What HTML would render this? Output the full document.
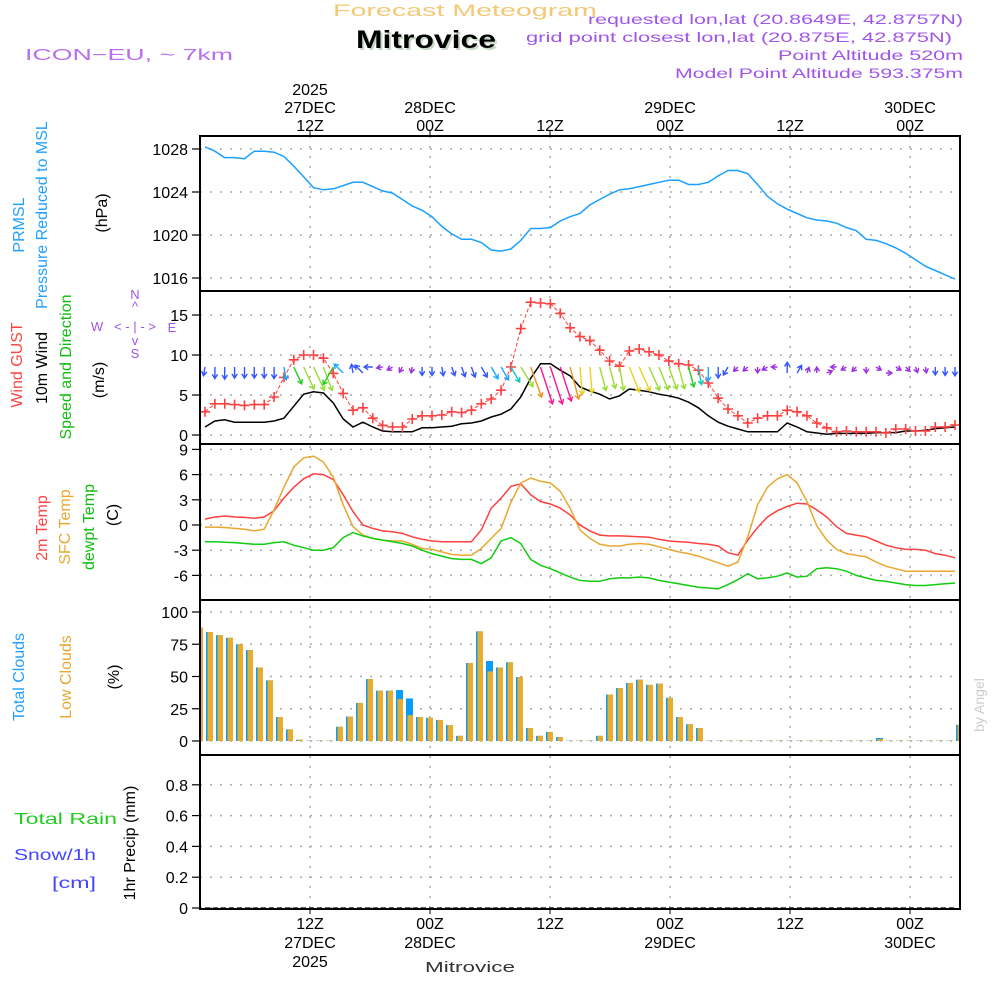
<!DOCTYPE html>
<html><head><meta charset="utf-8"><style>
html,body{margin:0;padding:0;background:#fff}
svg{display:block}
text{font-family:"Liberation Sans",sans-serif}
</style></head><body>
<svg id="chart" width="1000" height="1000" viewBox="0 0 1000 1000" xmlns="http://www.w3.org/2000/svg">
<g id="header">
<text x="333" y="16" font-size="17" fill="#f2c977" textLength="264" lengthAdjust="spacingAndGlyphs">Forecast Meteogram</text>
<text x="356" y="48" font-size="25" font-weight="bold" font-family="Liberation Serif" fill="#c5d8c5" textLength="140" lengthAdjust="spacingAndGlyphs" transform="translate(2,2)">Mitrovice</text>
<text x="356" y="48" font-size="25" font-weight="bold" font-family="Liberation Serif" fill="#000" textLength="140" lengthAdjust="spacingAndGlyphs">Mitrovice</text>
<text x="25" y="60" font-size="16" fill="#b86ff0" textLength="208" lengthAdjust="spacingAndGlyphs">ICON−EU, ~ 7km</text>
<text x="588" y="24" font-size="14" fill="#a055e8" textLength="375" lengthAdjust="spacingAndGlyphs">requested lon,lat (20.8649E, 42.8757N)</text>
<text x="526" y="42" font-size="14" fill="#a055e8" textLength="426" lengthAdjust="spacingAndGlyphs">grid point closest lon,lat (20.875E, 42.875N)</text>
<text x="778" y="60" font-size="14" fill="#a055e8" textLength="185" lengthAdjust="spacingAndGlyphs">Point Altitude 520m</text>
<text x="675" y="78" font-size="14" fill="#a055e8" textLength="288" lengthAdjust="spacingAndGlyphs">Model Point Altitude 593.375m</text>
</g>
<g id="grid"></g>
<g id="marks"></g>
<g id="frames"></g>
<g id="labels" font-size="16">
<text transform="translate(24,225) rotate(-90)" text-anchor="middle" fill="#22a0ff">PRMSL</text>
<text transform="translate(47,215) rotate(-90)" text-anchor="middle" fill="#22a0ff">Pressure Reduced to MSL</text>
<text transform="translate(107,213) rotate(-90)" text-anchor="middle" fill="#000">(hPa)</text>
<text transform="translate(22,365) rotate(-90)" text-anchor="middle" fill="#ff4444">Wind GUST</text>
<text transform="translate(47,368) rotate(-90)" text-anchor="middle" fill="#000">10m Wind</text>
<text transform="translate(71,367) rotate(-90)" text-anchor="middle" fill="#11bb11">Speed and Direction</text>
<text transform="translate(104,380) rotate(-90)" text-anchor="middle" fill="#000">(m/s)</text>
<g font-size="13" fill="#a055e8">
<text x="135" y="299" text-anchor="middle">N</text><text x="135" y="311" text-anchor="middle">^</text>
<text x="135" y="331" text-anchor="middle" textLength="42" lengthAdjust="spacingAndGlyphs">&lt; - | - &gt;</text>
<text x="97" y="331" text-anchor="middle">W</text><text x="172" y="332" text-anchor="middle">E</text>
<text x="135" y="345" text-anchor="middle">v</text><text x="135" y="358" text-anchor="middle">S</text>
</g>
<text transform="translate(47,528) rotate(-90)" text-anchor="middle" fill="#ff4444">2m Temp</text>
<text transform="translate(70,527) rotate(-90)" text-anchor="middle" fill="#e8a830">SFC Temp</text>
<text transform="translate(94,527) rotate(-90)" text-anchor="middle" fill="#11bb11">dewpt Temp</text>
<text transform="translate(118,515) rotate(-90)" text-anchor="middle" fill="#000">(C)</text>
<text transform="translate(24,677) rotate(-90)" text-anchor="middle" fill="#22a0ff">Total Clouds</text>
<text transform="translate(71,677) rotate(-90)" text-anchor="middle" fill="#e8a830">Low Clouds</text>
<text transform="translate(119,677) rotate(-90)" text-anchor="middle" fill="#000">(%)</text>
<text x="14" y="824" font-size="16" fill="#22cc22" textLength="103" lengthAdjust="spacingAndGlyphs">Total  Rain</text>
<text x="14" y="860" font-size="16" fill="#4444ff" textLength="82" lengthAdjust="spacingAndGlyphs">Snow/1h</text>
<text x="52" y="888" font-size="16" fill="#4444ff" textLength="44" lengthAdjust="spacingAndGlyphs">[cm]</text>
<text transform="translate(135,843) rotate(-90)" text-anchor="middle" fill="#000">1hr Precip (mm)</text>
<text x="425" y="972" font-size="15" font-family="Liberation Serif" fill="#333" textLength="90" lengthAdjust="spacingAndGlyphs">Mitrovice</text>
<text transform="translate(984,705) rotate(-90)" font-size="14" font-family="Liberation Serif" fill="#ccc" text-anchor="middle">by Angel</text>
</g>
</svg>
<script>
// ---- data (hourly, index 0..76) ----
const pressure=[1028.2,1027.8,1027.2,1027.2,1027.1,1027.8,1027.8,1027.7,1027.3,1026.4,1025.4,1024.4,1024.2,1024.3,1024.6,1024.9,1024.9,1024.5,1024.1,1023.9,1023.3,1022.7,1022.3,1021.7,1020.8,1020.1,1019.6,1019.6,1019.3,1018.6,1018.5,1018.7,1019.5,1020.6,1020.6,1020.7,1021.3,1021.7,1022.0,1022.8,1023.3,1023.8,1024.2,1024.3,1024.5,1024.7,1024.9,1025.1,1025.1,1024.7,1024.7,1024.9,1025.5,1026.0,1026.0,1025.7,1024.7,1023.6,1022.9,1022.4,1022.0,1021.6,1021.4,1021.3,1021.1,1020.7,1020.4,1019.6,1019.5,1019.2,1018.8,1018.3,1017.7,1017.1,1016.7,1016.3,1015.9];
const gust=[2.9,3.9,3.9,3.8,3.7,3.8,3.8,4.75,7.2,9.4,10,10,9.6,7.7,5.2,3.1,3.4,2.1,1.2,1.0,1.0,2.0,2.4,2.4,2.5,2.9,2.8,3.1,3.9,4.5,5.6,8.5,13.3,16.6,16.5,16.4,15.2,13.4,12.3,11.8,10.6,9.25,8.6,10.5,10.75,10.4,10,9.25,8.9,8.75,8.1,6.5,4.6,3.25,2.4,1.5,2.1,2.4,2.4,3.1,2.9,2.4,1.5,0.9,0.4,0.5,0.4,0.4,0.4,0.25,0.75,0.75,0.5,0.5,1.0,1.0,1.25];
const wind10m=[1.0,1.75,1.9,1.6,1.6,1.6,1.6,1.75,2.1,3.6,5.1,5.4,5.25,4,2,1,1.6,1.0,0.5,0.4,0.4,0.4,0.9,0.9,1,1.1,1.4,1.5,1.75,2.25,2.6,3.25,4.75,7.1,8.9,8.9,8.1,7.4,6.0,5.5,5.1,4.5,4.9,5.75,5.6,5.4,5.1,4.9,4.6,4.1,3.4,2.4,1.6,1.1,0.75,0.4,0.4,0.4,0.4,1.5,1,0.4,0.25,0.1,0.2,0.2,0.2,0.2,0.3,0.3,0.3,0.5,0.5,0.6,0.8,0.9,1.0];
const windDir=[10,0,0,0,0,0,0,0,350,335,335,335,340,30,135,170,135,90,80,60,30,10,0,0,350,340,340,340,330,330,330,330,328,340,342,342,342,345,355,355,345,345,350,338,336,336,338,340,345,345,350,0,0,30,45,50,0,60,90,180,210,200,180,250,90,60,45,0,300,270,300,315,340,350,0,0,0];
const temp2m=[0.7,0.95,1.07,0.95,0.9,0.8,0.95,1.7,3.2,4.5,5.5,6.1,6.0,5.4,3.6,1.6,0,-0.4,-0.7,-0.8,-1.0,-1.4,-1.7,-1.9,-2.0,-2.0,-2.0,-2.0,-0.6,2.0,3.2,4.6,4.9,3.6,2.8,2.5,2.0,1.2,0,-0.7,-1.2,-1.3,-1.3,-1.35,-1.4,-1.45,-1.7,-1.9,-2.0,-2.05,-2.2,-2.3,-2.5,-3.3,-3.6,-1.8,-0.3,0.95,1.7,2.2,2.6,2.5,1.8,0.95,-0.2,-1.0,-1.2,-1.4,-1.9,-2.4,-2.7,-2.9,-2.9,-3.0,-3.4,-3.6,-3.9];
const tempSfc=[-0.25,-0.25,-0.3,-0.4,-0.5,-0.7,-0.5,1.8,4.5,6.9,8.0,8.2,7.5,5.7,2.4,-0.2,-1.2,-1.6,-1.8,-1.9,-1.9,-2.3,-2.8,-2.9,-3.2,-3.5,-3.6,-3.6,-2.8,-1.6,-0.4,2.7,5.0,5.6,5.2,5.0,4.0,2.0,-0.6,-1.6,-2.3,-2.5,-2.5,-2.3,-2.2,-2.3,-2.6,-2.9,-3.2,-3.4,-3.7,-4.1,-4.5,-4.9,-4.4,-1.4,2.4,4.5,5.5,6.0,5.0,2.8,-0.1,-1.8,-2.9,-3.4,-3.6,-3.8,-4.4,-4.9,-5.2,-5.5,-5.5,-5.5,-5.5,-5.5,-5.5];
const dewpoint=[-2.0,-2.0,-2.05,-2.1,-2.2,-2.3,-2.3,-2.1,-2.0,-2.4,-2.7,-3.0,-3.0,-2.7,-1.5,-0.9,-1.3,-1.6,-1.8,-2.0,-2.2,-2.5,-3.0,-3.4,-3.7,-4.0,-4.1,-4.1,-4.6,-3.9,-1.9,-1.5,-2.2,-4.1,-4.8,-5.2,-5.7,-6.2,-6.6,-6.7,-6.7,-6.4,-6.3,-6.3,-6.2,-6.3,-6.6,-6.8,-7.0,-7.2,-7.4,-7.5,-7.6,-7.1,-6.5,-5.8,-6.4,-6.3,-6.1,-5.7,-6.2,-6.1,-5.2,-5.1,-5.2,-5.5,-6.0,-6.3,-6.6,-6.7,-6.9,-7.1,-7.2,-7.2,-7.1,-7.0,-6.9];
const totalClouds=[88,84.5,82,80,75,70.5,57,47,18.6,9,1,0.3,0.3,0.3,11,19,29.5,48,39,39,39.5,33,18.6,18,16.3,12.4,4,60.5,85,62,57,61,49.6,10,4,7,3,0.3,0.3,0.3,4,36,41,45,47.5,43.5,44.5,33.5,18.6,13,10,0.3,0.3,0.3,0.3,0.3,0.3,0.3,0.3,0.3,0.3,0.3,0.3,0.3,0.3,0.3,0.3,0.3,2.3,0.3,0.3,0.3,0.3,0.3,0.3,0.3,12.5];
const lowClouds=[88,84.5,82,80,75,70.5,57,47,18.6,9,1,0.3,0.3,0.3,11,19,29.5,48,39,39,32.5,20,18.6,18,16.3,12.4,4,60.5,85,54,57,61,49.6,10,4,7,3,0.3,0.3,0.3,4,36,41,45,47.5,43.5,44.5,33.5,18.6,13,10,0.3,0.3,0.3,0.3,0.3,0.3,0.3,0.3,0.3,0.3,0.3,0.3,0.3,0.3,0.3,0.3,0.3,1.5,0.3,0.3,0.3,0.3,0.3,0.3,0.3,12.5];
const precip=new Array(77).fill(0);
const pressureTicks=[1028,1024,1020,1016];
const windTicks=[0,5,10,15];
const tempTicks=[9,6,3,0,-3,-6];
const cloudTicks=[0,25,50,75,100];
const precipTicks=[0,0.2,0.4,0.6,0.8];
const timeTicks=["12Z","00Z","12Z","00Z","12Z","00Z"];
const timeDates=["27DEC","28DEC","","29DEC","","30DEC"];
const timeTickHours=[11,23,35,47,59,71];

// ---- scales ----
const L=200,R=960;
const xi=i=>205+i*(750/76);
const xh=h=>200+10*h;
const P={pres:[136,291],wind:[291,444],temp:[444,600],cloud:[600,755],prec:[755,909]};
const yP=v=>149+(1028-v)*10.75;
const yW=v=>435-8*v;
const yT=v=>525-8.4*v;
const yC=v=>741-1.29*v;
const yR=v=>908-154*v;
const NS="http://www.w3.org/2000/svg";
function mk(tag,attrs,parent){const e=document.createElementNS(NS,tag);for(const k in attrs)e.setAttribute(k,attrs[k]);parent.appendChild(e);return e;}
const grid=document.getElementById('grid'),marks=document.getElementById('marks'),frames=document.getElementById('frames');

function yAxis(ticks,ys,top,bot,name,fmt){
  ticks.forEach(t=>{const y=ys(t);
    const g=mk('line',{x1:L,x2:R,y1:y,y2:y,stroke:'#aaa','stroke-width':1.5,'stroke-dasharray':'2 8'},grid);
    
    
    mk('line',{x1:L-8,x2:L,y1:y,y2:y,stroke:'#000','stroke-width':1.2},frames);
    const tx=mk('text',{x:L-12,y:y+6,'text-anchor':'end','font-size':16,fill:'#000'},frames);
    tx.textContent=fmt?fmt(t):String(t);
    
    
  });
}
yAxis(pressureTicks,yP,136,291,'pressure');
yAxis(windTicks,yW,291,444,'wind');
yAxis(tempTicks,yT,444,600,'temp');
yAxis(cloudTicks,yC,600,755,'cloud');
yAxis(precipTicks,yR,755,909,'precip',t=>t===0?'0':t.toFixed(1));
timeTickHours.forEach((h,k)=>{const x=xh(h);
  const g=mk('line',{x1:x,x2:x,y1:136,y2:909,stroke:'#aaa','stroke-width':1.5,'stroke-dasharray':'2 8'},grid);
  
  
  mk('line',{x1:x,x2:x,y1:131,y2:136,stroke:'#000'},frames);
  mk('line',{x1:x,x2:x,y1:909,y2:914,stroke:'#000'},frames);
  const t1=mk('text',{x:x,y:131,'text-anchor':'middle','font-size':16},frames);t1.textContent=timeTicks[k];
  
  
  const b1=mk('text',{x:x,y:929,'text-anchor':'middle','font-size':16},frames);b1.textContent=timeTicks[k];
  
  
  if(timeDates[k]){
    const t2=mk('text',{x:x,y:113,'text-anchor':'middle','font-size':16},frames);t2.textContent=timeDates[k];
    
    
    const b2=mk('text',{x:x,y:948,'text-anchor':'middle','font-size':16},frames);b2.textContent=timeDates[k];
    
    
  }
  if(k===0){
    const t3=mk('text',{x:x,y:95,'text-anchor':'middle','font-size':16},frames);t3.textContent='2025';
    
    
    const b3=mk('text',{x:x,y:967,'text-anchor':'middle','font-size':16},frames);b3.textContent='2025';
    
    
  }
});
Object.keys(P).forEach(k=>{const [a,b]=P[k];
  const r=mk('rect',{x:L,y:a,width:R-L,height:b-a,fill:'none',stroke:'#000','stroke-width':2},frames);
  
  
});

function line(arr,ys,color,name,w){
  const d=arr.map((v,i)=>(i?'L':'M')+xi(i).toFixed(1)+','+ys(v).toFixed(1)).join('');
  const p=mk('path',{d:d,fill:'none',stroke:color,'stroke-width':w||1.5},marks);
  
  
  return p;
}
line(pressure,yP,'#1aa0ff','pressure-line');
totalClouds.forEach((v,i)=>{const x=xh(i)-4;
  const x0=Math.max(L,x), w=Math.min(x+7,R)-x0; if(w<=0)return;
  const b=mk('rect',{x:x0,y:yC(v),width:w,height:yC(0)-yC(v),fill:'#0a9cf5'},marks);
  
  
  const lv=lowClouds[i];const xo=Math.max(L,x+1.5),wo=Math.min(x+7,R)-xo;
  if(wo>0){const o=mk('rect',{x:xo,y:yC(lv),width:wo,height:yC(0)-yC(lv),fill:'#e8ad2e'},marks);
  
  }
});
line(precip,yR,'#000','precip-line',1.2).setAttribute('stroke-dasharray','5 3');
line(temp2m,yT,'#ff4040','temp-2m-line');
line(tempSfc,yT,'#e8a830','temp-sfc-line');
line(dewpoint,yT,'#11cc11','dewpoint-line');
line(wind10m,yW,'#000','wind-10m-line');
line(gust,yW,'#ff4040','wind-gust-line',1).setAttribute('stroke-dasharray','4 2');
gust.forEach((v,i)=>{const x=xi(i),y=yW(v);
  const c=mk('path',{d:`M${x-5},${y}h10M${x},${y-5}v10`,stroke:'#ff4040','stroke-width':1.6},marks);
  
  
});
function wcol(v){if(v<0.8)return'#9a30e0';if(v<2)return'#3355ff';if(v<2.8)return'#1aa8ff';if(v<3.5)return'#11c8c0';if(v<4.5)return'#22cc22';if(v<5.5)return'#99dd33';if(v<6.5)return'#e8d020';if(v<8)return'#f39020';return'#ff1493';}
wind10m.forEach((v,i)=>{
  const th=(windDir[i]+180)*Math.PI/180;
  const dx=Math.sin(th),dy=-Math.cos(th);
  const len=v<0.8?6:5+3.8*v;
  const x0=xi(i),y0=dy>=0?367:373;
  const x1=x0+dx*len,y1=y0+dy*len;
  const a1=th+Math.PI*0.82,a2=th-Math.PI*0.82;
  const h=5;
  const d=`M${x0.toFixed(1)},${y0.toFixed(1)}L${x1.toFixed(1)},${y1.toFixed(1)}M${(x1+Math.sin(a1)*h).toFixed(1)},${(y1-Math.cos(a1)*h).toFixed(1)}L${x1.toFixed(1)},${y1.toFixed(1)}L${(x1+Math.sin(a2)*h).toFixed(1)},${(y1-Math.cos(a2)*h).toFixed(1)}`;
  const p=mk('path',{d:d,fill:'none',stroke:wcol(v),'stroke-width':1.4},marks);
  
  
});
</script>
</body></html>
